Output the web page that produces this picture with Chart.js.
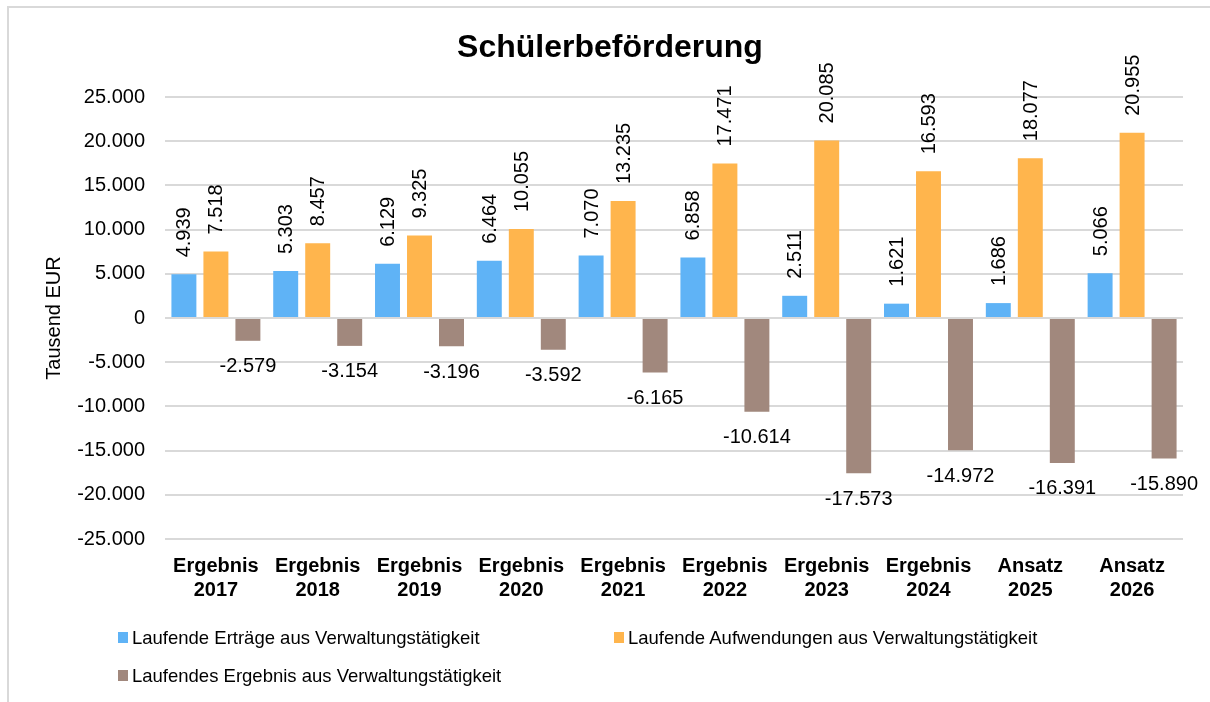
<!DOCTYPE html>
<html lang="de">
<head>
    <meta charset="UTF-8">
    <title>Schülerbeförderung</title>
    <script src="https://cdn.jsdelivr.net/npm/chart.js@4.4.0/dist/chart.umd.min.js"></script>
    <style>
        body {
            margin: 0;
            padding: 0;
            background-color: #ffffff;
            font-family: "Liberation Sans", Arial, sans-serif;
            overflow: hidden;
        }
        #frame {
            position: absolute;
            left: 7px;
            top: 6px;
            width: 1230px;
            height: 740px;
            border: 2px solid #d9d9d9;
        }
        #chartContainer {
            position: absolute;
            left: 0;
            top: 0;
            width: 1210px;
            height: 702px;
        }
        #title {
            position: absolute;
            left: 410px;
            width: 400px;
            top: 27px;
            text-align: center;
            font-size: 32px;
            font-weight: bold;
            line-height: 38.4px;
            color: #000000;
        }
        .legend-item {
            position: absolute;
            font-size: 18.5px;
            color: #000000;
            line-height: 22px;
            white-space: nowrap;
        }
        .legend-item span.box {
            position: absolute;
            left: -14px;
            top: 5px;
            width: 10px;
            height: 11px;
        }
    </style>
</head>
<body>
    <div id="frame"></div>
    <div id="chartContainer">
        <canvas id="chart"></canvas>
    </div>
    <div id="title">Schülerbeförderung</div>
    <div class="legend-item" style="left:132px; top:627px;"><span class="box" style="background:#5fb3f6"></span>Laufende Erträge aus Verwaltungstätigkeit</div>
    <div class="legend-item" style="left:628px; top:627px;"><span class="box" style="background:#ffb54d"></span>Laufende Aufwendungen aus Verwaltungstätigkeit</div>
    <div class="legend-item" style="left:132px; top:665px;"><span class="box" style="background:#a1887d"></span>Laufendes Ergebnis aus Verwaltungstätigkeit</div>

    <script>
        // Data
        const categories = [
            ['Ergebnis', '2017'], ['Ergebnis', '2018'], ['Ergebnis', '2019'], ['Ergebnis', '2020'],
            ['Ergebnis', '2021'], ['Ergebnis', '2022'], ['Ergebnis', '2023'], ['Ergebnis', '2024'],
            ['Ansatz', '2025'], ['Ansatz', '2026']
        ];
        const ertraege = [4939, 5303, 6129, 6464, 7070, 6858, 2511, 1621, 1686, 5066];
        const aufwendungen = [7518, 8457, 9325, 10055, 13235, 17471, 20085, 16593, 18077, 20955];
        const ergebnis = [-2579, -3154, -3196, -3592, -6165, -10614, -17573, -14972, -16391, -15890];
        const yMin = -25000;
        const yMax = 25000;
        const yStep = 5000;

        // German number format: 1.234 / -12.345
        function fmt(v) {
            const s = String(Math.abs(Math.round(v))).replace(/\B(?=(\d{3})+(?!\d))/g, '.');
            return (v < 0 ? '-' : '') + s;
        }

        // Value labels: rotated above positive bars, horizontal below negative bars
        const valueLabels = {
            id: 'valueLabels',
            afterDatasetsDraw(chart) {
                const ctx = chart.ctx;
                ctx.save();
                ctx.fillStyle = '#000000';
                ctx.font = '20px "Liberation Sans", Arial, sans-serif';
                chart.data.datasets.forEach((ds, i) => {
                    const meta = chart.getDatasetMeta(i);
                    meta.data.forEach((bar, j) => {
                        const v = ds.data[j];
                        if (v >= 0) {
                            ctx.save();
                            ctx.translate(bar.x, bar.y - 17);
                            ctx.rotate(-Math.PI / 2);
                            ctx.textAlign = 'left';
                            ctx.textBaseline = 'middle';
                            ctx.fillText(fmt(v), 0, 1);
                            ctx.restore();
                        } else {
                            ctx.textAlign = 'center';
                            ctx.textBaseline = 'top';
                            ctx.fillText(fmt(v), bar.x, bar.y + 16);
                        }
                    });
                });
                ctx.restore();
            }
        };

        const config = {
            type: 'bar',
            data: {
                labels: categories,
                datasets: [
                    {
                        label: 'Laufende Erträge aus Verwaltungstätigkeit',
                        data: ertraege,
                        backgroundColor: '#5fb3f6'
                    },
                    {
                        label: 'Laufende Aufwendungen aus Verwaltungstätigkeit',
                        data: aufwendungen,
                        backgroundColor: '#ffb54d'
                    },
                    {
                        label: 'Laufendes Ergebnis aus Verwaltungstätigkeit',
                        data: ergebnis,
                        backgroundColor: '#a1887d'
                    }
                ]
            },
            options: {
                responsive: true,
                maintainAspectRatio: false,
                animation: false,
                categoryPercentage: 0.943,
                barPercentage: 0.78,
                layout: {
                    padding: { left: 0, right: 27, top: 97, bottom: 100 }
                },
                plugins: {
                    legend: { display: false },
                    tooltip: { enabled: false },
                    title: { display: false }
                },
                scales: {
                    x: {
                        grid: { display: false },
                        border: { display: false },
                        ticks: {
                            color: '#000000',
                            padding: 7,
                            maxRotation: 0,
                            autoSkip: false,
                            font: { size: 20, weight: 'bold', family: '"Liberation Sans", Arial, sans-serif', lineHeight: 1.2 }
                        },
                        afterFit: (scale) => { scale.height = 63; }
                    },
                    y: {
                        min: yMin,
                        max: yMax,
                        grid: {
                            color: '#d9d9d9',
                            lineWidth: 2,
                            drawTicks: false
                        },
                        border: { display: false },
                        ticks: {
                            stepSize: yStep,
                            color: '#000000',
                            padding: 20,
                            font: { size: 20, family: '"Liberation Sans", Arial, sans-serif' },
                            callback: (v) => fmt(v)
                        },
                        title: {
                            display: true,
                            text: 'Tausend EUR',
                            color: '#000000',
                            font: { size: 20, family: '"Liberation Sans", Arial, sans-serif', lineHeight: 1.2 },
                            padding: { top: 42, bottom: 0 }
                        },
                        afterFit: (scale) => { scale.width = 165; }
                    }
                }
            },
            plugins: [valueLabels]
        };

        new Chart(document.getElementById('chart').getContext('2d'), config);
    </script>
</body>
</html>
